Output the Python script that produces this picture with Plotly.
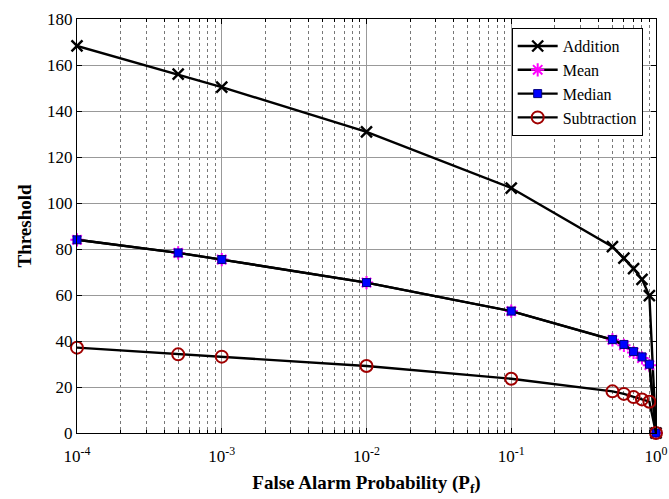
import plotly.graph_objects as go

pf = [1e-4, 5e-4, 1e-3, 1e-2, 1e-1, 0.5, 0.6, 0.7, 0.8, 0.9, 1.0]
addition = [168.3, 156.0, 150.4, 130.9, 106.5, 81.0, 76.0, 71.5, 66.8, 59.7, 0.0]
mean = [84.0, 78.3, 75.4, 65.4, 53.0, 40.5, 38.1, 35.0, 32.6, 29.5, 0.0]
median = [84.0, 78.3, 75.4, 65.4, 53.0, 40.6, 38.5, 35.4, 33.1, 29.9, 0.0]
subtraction = [37.1, 34.2, 33.2, 29.1, 23.6, 18.1, 17.0, 15.6, 14.6, 13.6, 0.0]

xtick_vals = [1e-4, 1e-3, 1e-2, 1e-1, 1.0]
xtick_text = ["10<sup>-4</sup>", "10<sup>-3</sup>", "10<sup>-2</sup>", "10<sup>-1</sup>", "10<sup>0</sup>"]

FONT = "Liberation Serif, Times New Roman, serif"

fig = go.Figure()
fig.add_trace(go.Scatter(
    x=pf, y=addition, name="Addition", mode="lines+markers", cliponaxis=False,
    line=dict(color="black", width=2.4),
    marker=dict(symbol="x-thin", size=11, line=dict(color="black", width=2.4), color="black"),
))
fig.add_trace(go.Scatter(
    x=pf, y=mean, name="Mean", mode="lines+markers", cliponaxis=False,
    line=dict(color="black", width=2.4),
    marker=dict(symbol="asterisk", size=11, line=dict(color="#ff00ff", width=2), color="#ff00ff"),
))
fig.add_trace(go.Scatter(
    x=pf, y=median, name="Median", mode="lines+markers", cliponaxis=False,
    line=dict(color="black", width=2.4),
    marker=dict(symbol="square", size=8, color="#0000ff", line=dict(color="#000080", width=1)),
))
fig.add_trace(go.Scatter(
    x=pf, y=subtraction, name="Subtraction", mode="lines+markers", cliponaxis=False,
    line=dict(color="black", width=2.4),
    marker=dict(symbol="circle-open", size=12, line=dict(color="#a00000", width=2), color="#a00000"),
))

fig.update_layout(
    width=669, height=499,
    margin=dict(l=77, r=13, t=19, b=66, autoexpand=False),
    paper_bgcolor="white", plot_bgcolor="white",
    font=dict(family=FONT, size=17, color="black"),
    showlegend=True,
    legend=dict(
        x=0.977, y=0.978, xanchor="right", yanchor="top",
        bgcolor="white", bordercolor="black", borderwidth=1,
        font=dict(family=FONT, size=16, color="black"),
        tracegroupgap=0, itemwidth=40,
    ),
    xaxis=dict(
        type="log", range=[-4, 0], automargin=False,
        tickvals=xtick_vals, ticktext=xtick_text,
        ticks="inside", ticklen=5, tickcolor="black", ticklabelstandoff=8,
        showline=True, linecolor="black", linewidth=1, mirror="ticks",
        showgrid=True, gridcolor="#999999", gridwidth=1,
        minor=dict(dtick="D1", ticks="inside", ticklen=3, tickcolor="black",
                   showgrid=True, gridcolor="#777777", griddash="dot", gridwidth=1),
        zeroline=False,
        title=dict(text="<b>False Alarm Probability (P<sub>f</sub>)</b>",
                   font=dict(family=FONT, size=19), standoff=10),
        tickfont=dict(family=FONT, size=17),
    ),
    yaxis=dict(
        range=[0, 180], dtick=20, automargin=False,
        ticks="inside", ticklen=5, tickcolor="black",
        showline=True, linecolor="black", linewidth=1, mirror="ticks",
        showgrid=True, gridcolor="#999999", gridwidth=1,
        zeroline=False,
        title=dict(text="<b>Threshold</b>", font=dict(family=FONT, size=19), standoff=10),
        tickfont=dict(family=FONT, size=17),
    ),
)

fig.write_html("out.html")
